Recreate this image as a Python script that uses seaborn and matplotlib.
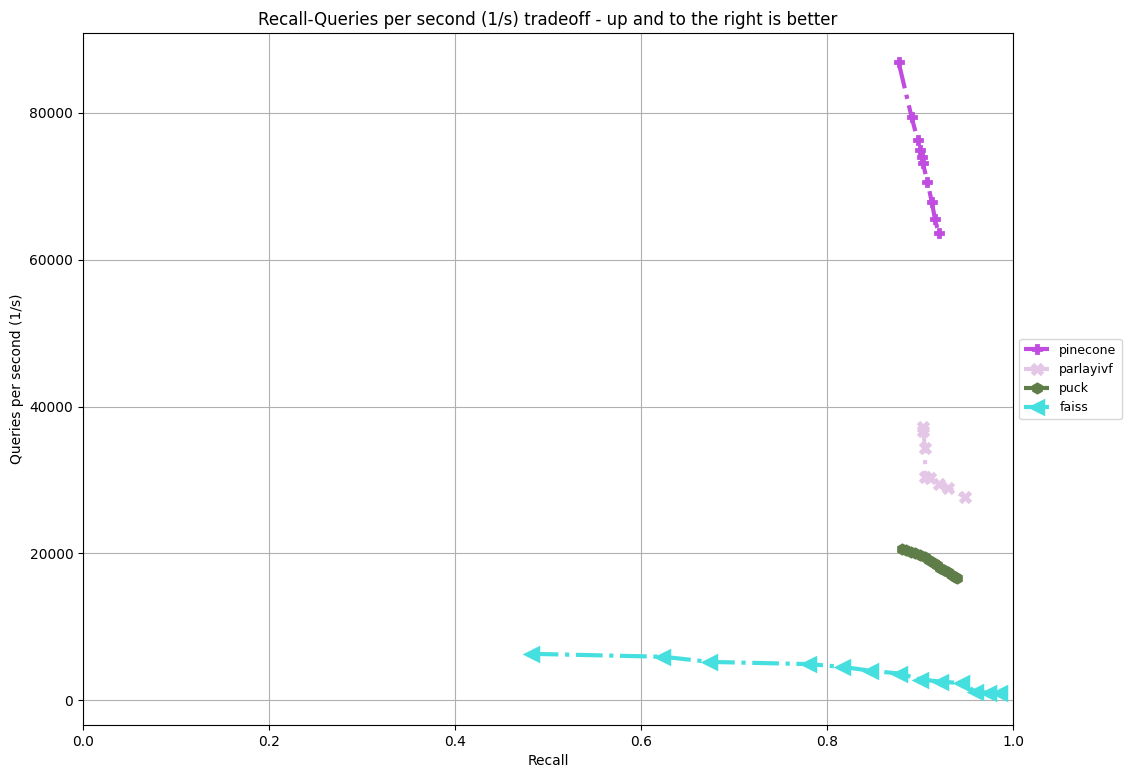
import pandas as pd
import matplotlib.pyplot as plt
import seaborn as sns

# valori
pinecone_recall = [0.877, 0.891, 0.8975, 0.900, 0.902, 0.903, 0.908, 0.9126, 0.916, 0.920]
pinecone_qps = [86900, 79400, 76300, 74900, 74000, 73200, 70600, 67900, 65600, 63600]

parlayivf_recall = [0.9035, 0.9035, 0.9054, 0.9054, 0.911, 0.920, 0.9305, 0.948]
parlayivf_qps = [37250, 36600, 34300, 30400, 30200, 29500, 28900, 27700]

puck_recall = [0.881, 0.885, 0.890, 0.895, 0.900, 0.905, 0.910, 0.915, 0.918, 0.922, 0.926, 0.930, 0.934, 0.938, 0.940]
puck_qps = [20600, 20400, 20200, 20000, 19800, 19500, 19100, 18700, 18400, 18000, 17700, 17400, 17100, 16800, 16700]

faiss_recall = [0.4825, 0.624, 0.674, 0.781, 0.8175, 0.847, 0.8785, 0.901, 0.923, 0.9455, 0.960, 0.9745, 0.986]
faiss_qps = [6300, 5900, 5200, 4900, 4500, 4000, 3600, 2800, 2500, 2300, 1100, 1000, 1000]

series = [
    ("pinecone", pinecone_recall, pinecone_qps, "#c04ce0", "P", 6, 2),
    ("parlayivf", parlayivf_recall, parlayivf_qps, "#e4c6e7", "x", 7, 3.5),
    ("puck", puck_recall, puck_qps, "#5e7d48", "h", 6, 2.5),
    ("faiss", faiss_recall, faiss_qps, "#46dfdf", "<", 8, 2.5),
]

fig, ax = plt.subplots(figsize=(11.31, 7.78), dpi=100)

for name, xs, ys, color, marker, ms, mew in series:
    df = pd.DataFrame({"recall": xs, "qps": ys})
    sns.lineplot(data=df, x="recall", y="qps", ax=ax, estimator=None, sort=False,
                 color=color, marker=marker, markersize=ms, markeredgewidth=mew,
                 markeredgecolor=color, linewidth=3, linestyle="-.", label=name)

ax.set_xlim(0, 1)
ax.set_ylim(-3400, 90900)
ax.set_title("Recall-Queries per second (1/s) tradeoff - up and to the right is better")
ax.set_xlabel("Recall")
ax.set_ylabel("Queries per second (1/s)")
ax.grid(True)
ax.legend(loc="center left", bbox_to_anchor=(1, 0.5), fontsize=9)

plt.subplots_adjust(left=0.0734, right=0.8957, top=0.9576, bottom=0.0681)
plt.savefig("out.png")
plt.close()
